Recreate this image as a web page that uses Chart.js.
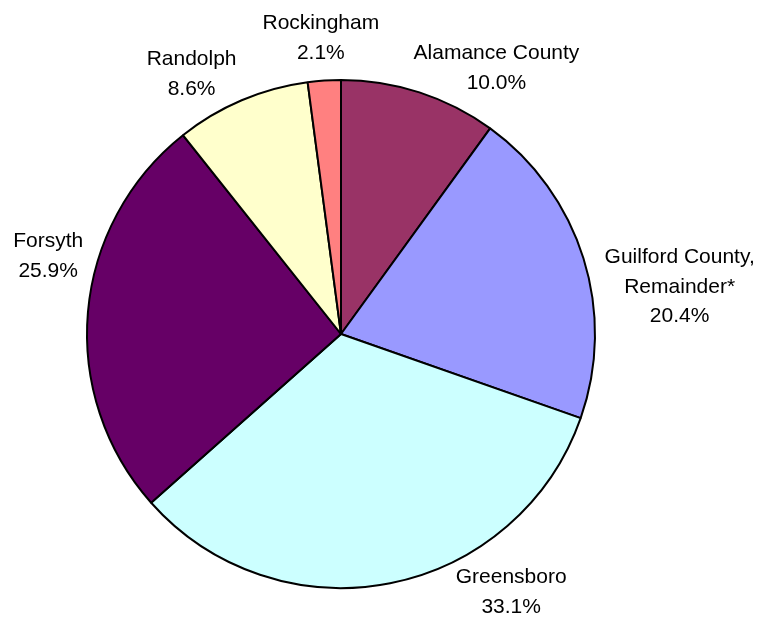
<!DOCTYPE html>
<html>
<head>
<meta charset="utf-8">
<script src="https://cdn.jsdelivr.net/npm/chart.js@4/dist/chart.umd.min.js"></script>
<style>
  html, body { margin: 0; padding: 0; background: #ffffff; }
  #wrap { width: 763px; height: 620px; position: relative; }
</style>
</head>
<body>
<div id="wrap"><canvas id="pie" width="763" height="620"></canvas></div>
<script>
// Share of total by area, clockwise from 12 o'clock
const areas = ['Alamance County', 'Guilford County,\nRemainder*', 'Greensboro', 'Forsyth', 'Randolph', 'Rockingham'];
const shares = [10.0, 20.4, 33.1, 25.9, 8.6, 2.1];
const sliceColors = ['#993366', '#9999FF', '#CCFFFF', '#660066', '#FFFFCC', '#FF8080'];

// Label placement: angle (degrees clockwise from top) and distance in pie radii
const labelAngle = [30.3, 82.1, 146.6, 284.9, 330.1, 356.1];
const labelDist = [1.213, 1.346, 1.217, 1.193, 1.180, 1.167];

const outsideLabels = {
  id: 'outsideLabels',
  afterDatasetsDraw(chart) {
    const ctx = chart.ctx;
    const meta = chart.getDatasetMeta(0);
    const arc0 = meta.data[0];
    const cx = arc0.x, cy = arc0.y, r = arc0.outerRadius;
    const lineH = 29.5;
    ctx.save();
    ctx.font = '21px "Liberation Sans", Arial, sans-serif';
    ctx.fillStyle = '#000000';
    ctx.textAlign = 'center';
    ctx.textBaseline = 'middle';
    areas.forEach((name, i) => {
      const a = labelAngle[i] * Math.PI / 180;
      const x = cx + Math.sin(a) * r * labelDist[i];
      const y = cy - Math.cos(a) * r * labelDist[i];
      const lines = name.split('\n').concat([shares[i].toFixed(1) + '%']);
      const top = y - (lines.length - 1) * lineH / 2;
      lines.forEach((t, k) => ctx.fillText(t, x, top + k * lineH));
    });
    ctx.restore();
  }
};

new Chart(document.getElementById('pie'), {
  type: 'pie',
  data: {
    labels: areas.map(s => s.replace('\n', ' ')),
    datasets: [{
      data: shares,
      backgroundColor: sliceColors,
      borderColor: '#000000',
      borderWidth: 2
    }]
  },
  options: {
    responsive: false,
    animation: false,
    events: [],
    layout: { padding: { left: 86, right: 167, top: 78, bottom: 30 } },
    plugins: {
      legend: { display: false },
      tooltip: { enabled: false }
    }
  },
  plugins: [outsideLabels]
});
</script>
</body>
</html>
